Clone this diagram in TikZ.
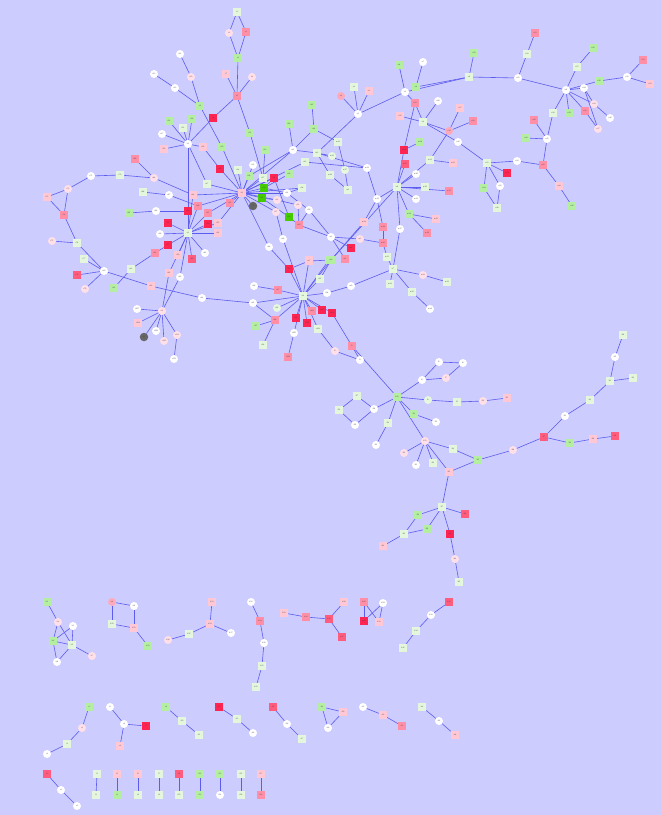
\documentclass[tikz,border=0pt]{standalone}
\usepackage{tikz}
\usepackage{tkz-graph}
\usetikzlibrary{arrows,%
                shapes,positioning}
\definecolor{bgblue}{HTML}{CCCCFF}
\definecolor{edgeblue}{HTML}{5C5CEE}
\definecolor{gA}{HTML}{E4F7DC}
\definecolor{gB}{HTML}{B4EEA0}
\definecolor{gC}{HTML}{44CC00}
\definecolor{pP}{HTML}{FFC8D4}
\definecolor{pQ}{HTML}{FF8FA6}
\definecolor{pS}{HTML}{FF5C7E}
\definecolor{pR}{HTML}{FF2452}
\definecolor{cV}{HTML}{FFE0E8}
\definecolor{cU}{HTML}{FFAABB}
\definecolor{cG}{HTML}{E6F8DE}
\pgfdeclarelayer{bgrect}
\pgfdeclarelayer{edgelayer}
\pgfsetlayers{bgrect,edgelayer,main}
\tikzset{VertexStyle/.style={inner sep=0pt, font=\sffamily\fontsize{1.9}{2}\selectfont, text=black!75},
  sq/.style={rectangle, minimum width=8.4pt, minimum height=7.4pt},
  rd/.style={circle, minimum size=8pt},
  sA/.style={sq, fill=gA}, sB/.style={sq, fill=gB}, sC/.style={sq, fill=gC},
  sP/.style={sq, fill=pP}, sQ/.style={sq, fill=pQ}, sS/.style={sq, fill=pS},
  sR/.style={sq, fill=pR, minimum width=8.6pt, minimum height=8.2pt},
  cW/.style={rd, fill=white}, cV/.style={rd, fill=cV}, cU/.style={rd, fill=cU},
  cG/.style={rd, fill=cG},
  gdot/.style={circle, minimum size=8.5pt, fill=black!60, text=black!60}}

\begin{document}
\begin{tikzpicture}[x=1pt,y=-1pt]
\SetUpEdge[lw=0.6pt, color=edgeblue]
\useasboundingbox (0,0) rectangle (661,815);
\begin{pgfonlayer}{bgrect}
\fill[bgblue] (0,0) rectangle (661,815);
\end{pgfonlayer}
% upper left cluster
\Vertex[x=237,y=12,style={sA}]{t1}
\Vertex[x=229,y=33,style={cV}]{t2}
\Vertex[x=246,y=32,style={sQ}]{t3}
\Vertex[x=238,y=58,style={sB}]{t4}
\Vertex[x=237,y=96,style={sQ}]{t5}
\Vertex[x=252,y=77,style={cV}]{t6}
\Vertex[x=226,y=74,style={sP}]{t7}
\Vertex[x=213,y=118,style={sR}]{t8}
\Vertex[x=200,y=106,style={sB}]{t9}
\Vertex[x=191,y=77,style={cV}]{t10}
\Vertex[x=180,y=54,style={cW}]{t11}
\Vertex[x=154,y=74,style={cW}]{t12}
\Vertex[x=175,y=88,style={cW}]{t13}
\Vertex[x=188,y=144,style={cW}]{h1}
\Vertex[x=169,y=121,style={sB}]{t14}
\Vertex[x=183,y=128,style={sA}]{t15}
\Vertex[x=192,y=119,style={sB}]{t16}
\Vertex[x=162,y=134,style={cW}]{t17}
\Vertex[x=164,y=149,style={sP}]{t18}
\Vertex[x=203,y=147,style={sP}]{t19}
\Vertex[x=222,y=147,style={sB}]{t20}
\Vertex[x=250,y=133,style={sB}]{t21}
\Vertex[x=265,y=150,style={sB}]{t22}
\Vertex[x=220,y=169,style={sR}]{t23}
\Vertex[x=238,y=170,style={sA}]{t24}
\Vertex[x=253,y=165,style={cW}]{t25}
\Vertex[x=249,y=176,style={sB}]{t26}
\Vertex[x=263,y=178,style={sA}]{t27}
\Vertex[x=274,y=178,style={sR}]{t28}
\Vertex[x=289,y=174,style={sB}]{t29}
\Vertex[x=264,y=188,style={sC}]{t30}
\Vertex[x=262,y=198,style={sC}]{t31}
\Vertex[x=242,y=193,style={sP}]{h2}
\Vertex[x=230,y=203,style={sQ}]{t32}
\Vertex[x=253,y=206,style={gdot}]{d1}
\Vertex[x=277,y=200,style={cV}]{t33}
\Vertex[x=287,y=193,style={cW}]{t34}
\Vertex[x=298,y=205,style={cV}]{t35}
\Vertex[x=302,y=188,style={sA}]{t36}
\Vertex[x=276,y=212,style={cV}]{t37}
\Vertex[x=289,y=217,style={sC}]{t38}
\Vertex[x=309,y=210,style={cW}]{t39}
\Vertex[x=299,y=225,style={sQ}]{t40}
\Vertex[x=293,y=150,style={cW}]{t41}
\Vertex[x=317,y=153,style={sA}]{t42}
\Vertex[x=305,y=162,style={sA}]{t43}
\Vertex[x=314,y=129,style={sB}]{t44}
\Vertex[x=312,y=105,style={sB}]{t45}
\Vertex[x=289,y=124,style={sB}]{t46}
\Vertex[x=207,y=184,style={sA}]{t47}
\Vertex[x=193,y=195,style={sP}]{t48}
\Vertex[x=198,y=206,style={sQ}]{t49}
\Vertex[x=188,y=211,style={sR}]{t50}
\Vertex[x=208,y=213,style={sQ}]{t51}
\Vertex[x=208,y=224,style={sR}]{t52}
\Vertex[x=218,y=223,style={sP}]{t53}
\Vertex[x=218,y=233,style={sP}]{t54}
\Vertex[x=188,y=233,style={sA}]{h3}
\Vertex[x=168,y=223,style={sR}]{t55}
\Vertex[x=160,y=234,style={cW}]{t56}
\Vertex[x=168,y=245,style={sR}]{t57}
\Vertex[x=155,y=253,style={sQ}]{t58}
\Vertex[x=178,y=255,style={sP}]{t59}
\Vertex[x=192,y=259,style={sS}]{t60}
\Vertex[x=205,y=253,style={cW}]{t61}
\Vertex[x=169,y=273,style={sP}]{t62}
\Vertex[x=180,y=277,style={cW}]{t63}
\Vertex[x=156,y=211,style={cW}]{t64}
\Vertex[x=129,y=213,style={sB}]{t65}
\Vertex[x=143,y=192,style={sA}]{t66}
\Vertex[x=169,y=195,style={cW}]{t67}
\Vertex[x=154,y=178,style={cV}]{t68}
\Vertex[x=135,y=159,style={sQ}]{t69}
\Vertex[x=120,y=175,style={sA}]{t70}
\Vertex[x=91,y=176,style={cW}]{t71}
\Vertex[x=68,y=189,style={cV}]{t72}
\Vertex[x=47,y=197,style={sP}]{t73}
\Vertex[x=64,y=215,style={sQ}]{t74}
\Vertex[x=52,y=241,style={cV}]{t75}
\Vertex[x=77,y=243,style={sA}]{t76}
\Vertex[x=84,y=259,style={sA}]{t77}
\Vertex[x=77,y=275,style={sS}]{t78}
\Vertex[x=85,y=289,style={cV}]{t79}
\Vertex[x=104,y=271,style={cW}]{t80}
\Vertex[x=114,y=288,style={sB}]{t81}
\Vertex[x=131,y=269,style={sA}]{t82}
\Vertex[x=151,y=286,style={sP}]{t83}
\Vertex[x=202,y=298,style={cW}]{t84}
\Vertex[x=253,y=303,style={cW}]{t85}
\Vertex[x=254,y=286,style={cW}]{t86}
\Vertex[x=278,y=290,style={sQ}]{t87}
\Vertex[x=269,y=247,style={cW}]{t88}
\Vertex[x=283,y=239,style={cW}]{t89}
\Vertex[x=289,y=269,style={sR}]{t90}
\Vertex[x=309,y=260,style={sP}]{t91}
\Vertex[x=329,y=260,style={sB}]{t92}
\Vertex[x=320,y=279,style={sA}]{t93}
\Vertex[x=303,y=296,style={sA}]{h4}
\Vertex[x=327,y=293,style={cW}]{t94}
\Vertex[x=277,y=308,style={cG}]{t95}
\Vertex[x=275,y=320,style={sQ}]{t96}
\Vertex[x=256,y=326,style={sB}]{t97}
\Vertex[x=263,y=345,style={sA}]{t98}
\Vertex[x=296,y=318,style={sR}]{t99}
\Vertex[x=307,y=323,style={sR}]{t100}
\Vertex[x=312,y=311,style={sQ}]{t101}
\Vertex[x=322,y=310,style={sR}]{t102}
\Vertex[x=332,y=313,style={sR}]{t103}
\Vertex[x=318,y=329,style={sA}]{t104}
\Vertex[x=294,y=333,style={cW}]{t105}
\Vertex[x=288,y=357,style={sQ}]{t106}
\Vertex[x=162,y=311,style={cV}]{h5}
\Vertex[x=137,y=309,style={cW}]{t107}
\Vertex[x=138,y=323,style={sP}]{t108}
\Vertex[x=144,y=337,style={gdot}]{d2}
\Vertex[x=156,y=331,style={cW}]{t109}
\Vertex[x=164,y=341,style={cV}]{t110}
\Vertex[x=177,y=335,style={cV}]{t111}
\Vertex[x=174,y=359,style={cW}]{t112}
% middle cluster
\Vertex[x=348,y=190,style={sA}]{m1}
\Vertex[x=331,y=237,style={cW}]{m2}
\Vertex[x=360,y=239,style={cV}]{m3}
\Vertex[x=351,y=248,style={sR}]{m4}
\Vertex[x=345,y=259,style={sQ}]{m5}
\Vertex[x=331,y=260,style={sB}]{m6}
\Vertex[x=309,y=261,style={sP}]{m7}
\Vertex[x=351,y=286,style={cW}]{m9}
\Vertex[x=397,y=187,style={sA}]{h6}
\Vertex[x=425,y=187,style={sA}]{m10}
\Vertex[x=449,y=191,style={sQ}]{m11}
\Vertex[x=416,y=199,style={cW}]{m12}
\Vertex[x=377,y=199,style={cW}]{m13}
\Vertex[x=409,y=214,style={sB}]{m14}
\Vertex[x=436,y=219,style={sP}]{m15}
\Vertex[x=427,y=233,style={sQ}]{m16}
\Vertex[x=400,y=229,style={cW}]{m17}
\Vertex[x=364,y=222,style={sP}]{m18}
\Vertex[x=383,y=227,style={sQ}]{m19}
\Vertex[x=383,y=243,style={sQ}]{m20}
\Vertex[x=387,y=257,style={sA}]{m21}
\Vertex[x=393,y=269,style={sA}]{h7}
\Vertex[x=423,y=275,style={cV}]{m22}
\Vertex[x=447,y=282,style={sA}]{m23}
\Vertex[x=390,y=284,style={sA}]{m24}
\Vertex[x=412,y=292,style={sA}]{m25}
\Vertex[x=430,y=309,style={cW}]{m26}
\Vertex[x=405,y=164,style={sS}]{m27}
\Vertex[x=404,y=150,style={sR}]{m28}
\Vertex[x=420,y=142,style={sB}]{m29}
\Vertex[x=416,y=174,style={cW}]{m30}
\Vertex[x=430,y=160,style={sA}]{m31}
\Vertex[x=453,y=163,style={sP}]{m32}
\Vertex[x=367,y=168,style={cW}]{m33}
\Vertex[x=338,y=142,style={sA}]{m34}
\Vertex[x=332,y=156,style={cG}]{m35}
\Vertex[x=330,y=175,style={sA}]{m36}
\Vertex[x=345,y=170,style={cG}]{m37}
% upper right cluster
\Vertex[x=358,y=114,style={cW}]{u1}
\Vertex[x=354,y=87,style={sA}]{u2}
\Vertex[x=369,y=91,style={sP}]{u3}
\Vertex[x=341,y=96,style={cU}]{u4}
\Vertex[x=405,y=92,style={cW}]{u5}
\Vertex[x=399,y=65,style={sB}]{u6}
\Vertex[x=423,y=62,style={cW}]{u7}
\Vertex[x=416,y=87,style={sB}]{u8}
\Vertex[x=469,y=77,style={sA}]{u9}
\Vertex[x=474,y=53,style={sB}]{u10}
\Vertex[x=518,y=78,style={cW}]{u11}
\Vertex[x=527,y=54,style={sA}]{u12}
\Vertex[x=535,y=33,style={sQ}]{u13}
\Vertex[x=423,y=122,style={sA}]{h8}
\Vertex[x=415,y=103,style={sQ}]{u14}
\Vertex[x=400,y=116,style={sP}]{u15}
\Vertex[x=438,y=101,style={cW}]{u16}
\Vertex[x=460,y=108,style={sP}]{u17}
\Vertex[x=473,y=121,style={sQ}]{u18}
\Vertex[x=449,y=131,style={cU}]{u19}
\Vertex[x=458,y=142,style={cW}]{u20}
\Vertex[x=487,y=163,style={sA}]{u21}
\Vertex[x=517,y=161,style={cW}]{u22}
\Vertex[x=507,y=173,style={sR}]{u23}
\Vertex[x=484,y=188,style={sB}]{u24}
\Vertex[x=500,y=186,style={cW}]{u25}
\Vertex[x=497,y=208,style={sA}]{u26}
\Vertex[x=566,y=90,style={cW}]{h9}
\Vertex[x=577,y=67,style={sA}]{u27}
\Vertex[x=593,y=48,style={sB}]{u28}
\Vertex[x=584,y=88,style={cW}]{u29}
\Vertex[x=599,y=81,style={sB}]{u30}
\Vertex[x=627,y=77,style={cW}]{u31}
\Vertex[x=643,y=60,style={sQ}]{u32}
\Vertex[x=650,y=84,style={sP}]{u33}
\Vertex[x=594,y=104,style={cV}]{u34}
\Vertex[x=585,y=111,style={sQ}]{u35}
\Vertex[x=610,y=118,style={cW}]{u36}
\Vertex[x=598,y=129,style={cV}]{u37}
\Vertex[x=553,y=113,style={sA}]{u38}
\Vertex[x=569,y=113,style={sB}]{u39}
\Vertex[x=534,y=120,style={sQ}]{u40}
\Vertex[x=547,y=139,style={cW}]{u41}
\Vertex[x=526,y=138,style={sB}]{u42}
\Vertex[x=543,y=165,style={sQ}]{u43}
\Vertex[x=559,y=186,style={sP}]{u44}
\Vertex[x=572,y=206,style={sB}]{u45}
% lower middle cluster
\Vertex[x=352,y=346,style={sQ}]{l1}
\Vertex[x=335,y=351,style={cV}]{l2}
\Vertex[x=360,y=360,style={cW}]{l3}
\Vertex[x=397,y=397,style={sB}]{h10}
\Vertex[x=422,y=380,style={cW}]{l4}
\Vertex[x=439,y=362,style={cW}]{l5}
\Vertex[x=463,y=363,style={cW}]{l6}
\Vertex[x=446,y=378,style={cV}]{l7}
\Vertex[x=428,y=400,style={cG}]{l8}
\Vertex[x=457,y=402,style={sA}]{l9}
\Vertex[x=483,y=401,style={cV}]{l10}
\Vertex[x=507,y=398,style={sP}]{l11}
\Vertex[x=414,y=414,style={sB}]{l12}
\Vertex[x=436,y=422,style={cW}]{l13}
\Vertex[x=388,y=423,style={sA}]{l14}
\Vertex[x=376,y=445,style={cW}]{l15}
\Vertex[x=374,y=409,style={cW}]{l16}
\Vertex[x=357,y=396,style={sA}]{l17}
\Vertex[x=339,y=410,style={sA}]{l18}
\Vertex[x=355,y=425,style={cW}]{l19}
\Vertex[x=425,y=441,style={cV}]{h11}
\Vertex[x=404,y=453,style={cV}]{l20}
\Vertex[x=416,y=465,style={cW}]{l21}
\Vertex[x=433,y=463,style={sA}]{l22}
\Vertex[x=449,y=472,style={sP}]{l23}
\Vertex[x=453,y=449,style={sA}]{l24}
\Vertex[x=478,y=460,style={sB}]{l25}
\Vertex[x=513,y=450,style={cV}]{l26}
\Vertex[x=544,y=437,style={sS}]{l27}
\Vertex[x=570,y=443,style={sB}]{l28}
\Vertex[x=593,y=439,style={sP}]{l29}
\Vertex[x=615,y=436,style={sS}]{l30}
\Vertex[x=565,y=416,style={cW}]{l31}
\Vertex[x=590,y=400,style={sA}]{l32}
\Vertex[x=610,y=381,style={sA}]{l33}
\Vertex[x=633,y=378,style={sA}]{l34}
\Vertex[x=615,y=357,style={cW}]{l35}
\Vertex[x=623,y=335,style={sA}]{l36}
\Vertex[x=442,y=507,style={sA}]{l37}
\Vertex[x=418,y=515,style={sB}]{l38}
\Vertex[x=427,y=529,style={sB}]{l39}
\Vertex[x=465,y=514,style={sS}]{l40}
\Vertex[x=404,y=534,style={sA}]{l41}
\Vertex[x=383,y=546,style={sP}]{l42}
\Vertex[x=450,y=534,style={sR}]{l43}
\Vertex[x=455,y=559,style={cV}]{l44}
\Vertex[x=459,y=582,style={sA}]{l45}
% small components
\Vertex[x=47,y=602,style={sB}]{b1}
\Vertex[x=58,y=622,style={cV}]{b2}
\Vertex[x=73,y=626,style={cW}]{b3}
\Vertex[x=53,y=641,style={sB}]{b4}
\Vertex[x=72,y=645,style={sA}]{b5}
\Vertex[x=57,y=662,style={cW}]{b6}
\Vertex[x=92,y=656,style={cV}]{b7}
\Vertex[x=112,y=602,style={cU}]{b8}
\Vertex[x=134,y=606,style={cW}]{b9}
\Vertex[x=112,y=624,style={sA}]{b10}
\Vertex[x=134,y=628,style={sP}]{b11}
\Vertex[x=148,y=646,style={sB}]{b12}
\Vertex[x=212,y=602,style={sP}]{b13}
\Vertex[x=210,y=624,style={sP}]{b14}
\Vertex[x=189,y=634,style={sA}]{b15}
\Vertex[x=168,y=640,style={cV}]{b16}
\Vertex[x=231,y=633,style={cW}]{b17}
\Vertex[x=251,y=602,style={cW}]{b18}
\Vertex[x=260,y=621,style={sQ}]{b19}
\Vertex[x=264,y=643,style={cW}]{b20}
\Vertex[x=262,y=666,style={sA}]{b21}
\Vertex[x=256,y=687,style={sA}]{b22}
\Vertex[x=284,y=613,style={sP}]{b23}
\Vertex[x=306,y=617,style={sQ}]{b24}
\Vertex[x=329,y=619,style={sS}]{b25}
\Vertex[x=344,y=602,style={sP}]{b26}
\Vertex[x=342,y=637,style={sS}]{b27}
\Vertex[x=364,y=602,style={sQ}]{b28}
\Vertex[x=383,y=603,style={cW}]{b29}
\Vertex[x=364,y=621,style={sR}]{b30}
\Vertex[x=379,y=622,style={sP}]{b31}
\Vertex[x=449,y=602,style={sS}]{b32}
\Vertex[x=431,y=615,style={cW}]{b33}
\Vertex[x=416,y=631,style={sA}]{b34}
\Vertex[x=403,y=648,style={sA}]{b35}
\Vertex[x=89,y=707,style={sB}]{c1}
\Vertex[x=82,y=728,style={cV}]{c2}
\Vertex[x=67,y=744,style={sA}]{c3}
\Vertex[x=47,y=754,style={cW}]{c4}
\Vertex[x=110,y=707,style={cW}]{c5}
\Vertex[x=124,y=724,style={cW}]{c6}
\Vertex[x=146,y=726,style={sR}]{c7}
\Vertex[x=120,y=746,style={sP}]{c8}
\Vertex[x=166,y=707,style={sB}]{c9}
\Vertex[x=182,y=721,style={sA}]{c10}
\Vertex[x=199,y=735,style={sA}]{c11}
\Vertex[x=219,y=707,style={sR}]{c12}
\Vertex[x=237,y=719,style={sA}]{c13}
\Vertex[x=253,y=733,style={cW}]{c14}
\Vertex[x=273,y=707,style={sS}]{c15}
\Vertex[x=287,y=724,style={cW}]{c16}
\Vertex[x=302,y=739,style={sA}]{c17}
\Vertex[x=322,y=707,style={sB}]{c18}
\Vertex[x=343,y=712,style={sP}]{c19}
\Vertex[x=328,y=728,style={cW}]{c20}
\Vertex[x=363,y=707,style={cW}]{c21}
\Vertex[x=383,y=715,style={sP}]{c22}
\Vertex[x=402,y=726,style={sQ}]{c23}
\Vertex[x=422,y=707,style={sA}]{c24}
\Vertex[x=439,y=721,style={cW}]{c25}
\Vertex[x=455,y=735,style={sP}]{c26}
\Vertex[x=47,y=774,style={sS}]{e1}
\Vertex[x=61,y=790,style={cW}]{e2}
\Vertex[x=77,y=806,style={cW}]{e3}
\Vertex[x=97,y=774,style={sA}]{f1}
\Vertex[x=96,y=795,style={sA}]{f2}
\Vertex[x=117,y=774,style={sP}]{f3}
\Vertex[x=117,y=795,style={sB}]{f4}
\Vertex[x=138,y=774,style={sP}]{f5}
\Vertex[x=138,y=795,style={sA}]{f6}
\Vertex[x=159,y=774,style={sA}]{f7}
\Vertex[x=159,y=795,style={sA}]{f8}
\Vertex[x=179,y=774,style={sS}]{f9}
\Vertex[x=179,y=795,style={sA}]{f10}
\Vertex[x=200,y=774,style={sB}]{f11}
\Vertex[x=200,y=795,style={sB}]{f12}
\Vertex[x=220,y=774,style={sB}]{f13}
\Vertex[x=220,y=795,style={cW}]{f14}
\Vertex[x=241,y=774,style={sA}]{f15}
\Vertex[x=241,y=795,style={sA}]{f16}
\Vertex[x=261,y=774,style={sP}]{f17}
\Vertex[x=261,y=795,style={sQ}]{f18}
\begin{pgfonlayer}{edgelayer}
% upper left
\Edges(t1,t2,t4,t3,t1)
\Edges(t4,t5,t6)
\Edge(t5)(t7)
\Edges(t5,t8,h1)
\Edges(t5,t21,t27)
\Edges(t11,t10,t9,t13,t12)
\Edges(t9,t20,h2)
\Edges(t19,t23,h2)
\Edge(h1)(t14)
\Edge(h1)(t15)
\Edge(h1)(t16)
\Edge(h1)(t17)
\Edge(h1)(t18)
\Edge(h1)(t19)
\Edge(h1)(t47)
\Edge(h1)(h3)
\Edge(h2)(t24)
\Edge(h2)(t25)
\Edge(h2)(t26)
\Edge(h2)(t27)
\Edge(h2)(t30)
\Edge(h2)(t31)
\Edge(h2)(t32)
\Edge(h2)(d1)
\Edge(h2)(t28)
\Edge(h2)(t33)
\Edge(h2)(t34)
\Edge(h2)(t36)
\Edge(h2)(t47)
\Edge(h2)(t48)
\Edge(h2)(t49)
\Edge(h2)(t51)
\Edge(h2)(t53)
\Edge(h2)(t88)
\Edge(h2)(t41)
\Edge(h2)(t43)
\Edge(h2)(t37)
\Edge(t22)(t27)
\Edge(t30)(t28)
\Edge(t30)(t34)
\Edge(t31)(t33)
\Edge(t31)(t38)
\Edge(t28)(t38)
\Edge(t29)(t30)
\Edge(t34)(t39)
\Edge(t33)(t35)
\Edge(t35)(t40)
\Edge(t38)(t40)
\Edge(t39)(t40)
\Edge(t36)(t34)
\Edge(t37)(t89)
\Edge(t41)(t42)
\Edge(t41)(t44)
\Edge(t41)(t46)
\Edge(t41)(t26)
\Edge(t44)(t45)
\Edge(h3)(t50)
\Edge(h3)(t51)
\Edge(h3)(t52)
\Edge(h3)(t53)
\Edge(h3)(t54)
\Edge(h3)(t55)
\Edge(h3)(t56)
\Edge(h3)(t57)
\Edge(h3)(t59)
\Edge(h3)(t60)
\Edge(h3)(t61)
\Edge(h3)(t62)
\Edge(h3)(t63)
\Edge(h3)(t49)
\Edge(h3)(t48)
\Edges(t57,t58,t82,t81)
\Edges(t62,h5)
\Edges(t63,h5)
\Edge(h5)(t107)
\Edge(h5)(t108)
\Edge(h5)(d2)
\Edge(h5)(t109)
\Edge(h5)(t110)
\Edge(h5)(t111)
\Edge(t111)(t112)
\Edges(t65,t64,t50)
\Edges(t66,t67,t49)
\Edges(t48,t68,t69)
\Edges(t68,t70,t71,t72,t73,t74,t72)
\Edges(t74,t76,t80,t83,t84,t85,h4)
\Edge(t75)(t76)
\Edge(t77)(t80)
\Edge(t78)(t80)
\Edge(t79)(t80)
\Edges(t86,t87,h4)
\Edges(t88,t90,h4)
\Edge(t89)(h4)
\Edge(h4)(t91)
\Edge(h4)(t92)
\Edge(h4)(t93)
\Edge(h4)(t94)
\Edge(h4)(t95)
\Edge(h4)(t96)
\Edge(h4)(t99)
\Edge(h4)(t100)
\Edge(h4)(t101)
\Edge(h4)(t102)
\Edge(h4)(t103)
\Edge(h4)(t104)
\Edge(h4)(t105)
\Edge(h4)(m6)
\Edge(t96)(t97)
\Edge(t96)(t98)
\Edge(t85)(t96)
\Edge(t105)(t106)
% middle
\Edges(t40,m2,m3,m20)
\Edge(m2)(m4)
\Edge(m2)(m5)
\Edge(m2)(t39)
\Edges(t93,m6,m7,t90)
\Edge(m6)(h6)
\Edges(m13,m18,m6)
\Edges(m33,m13,h6)
\Edges(m13,m19,m20,m21,h7)
\Edge(h6)(m10)
\Edge(h6)(m11)
\Edge(h6)(m12)
\Edges(h6,m14,m15)
\Edge(m14)(m16)
\Edges(h6,m17,h7)
\Edge(h6)(m27)
\Edge(h6)(m28)
\Edge(h6)(m30)
\Edge(h6)(m31)
\Edge(m28)(m29)
\Edge(m28)(u14)
\Edge(m31)(m32)
\Edge(m31)(u19)
\Edges(h7,m22,m23)
\Edge(h7)(m24)
\Edges(h7,m25,m26)
\Edges(h7,m9,t94)
\Edge(m33)(t43)
\Edge(m33)(t42)
\Edges(t44,m34,m37,m1)
\Edge(t42)(m35)
\Edges(t42,m36,m1)
% upper right
\Edge(u1)(t42)
\Edge(u1)(u2)
\Edge(u1)(u3)
\Edge(u1)(u4)
\Edge(u1)(u5)
\Edge(u5)(u6)
\Edge(u5)(u9)
\Edge(u5)(u14)
\Edges(u7,u8,u9)
\Edge(u9)(u10)
\Edges(u9,u11,u12,u13)
\Edge(u11)(h9)
\Edge(h8)(u14)
\Edge(h8)(u15)
\Edge(h8)(u16)
\Edges(h8,u20,u21)
\Edges(h8,u19,u17)
\Edge(u19)(u18)
\Edge(u21)(u22)
\Edge(u21)(u23)
\Edges(u21,u24,u26,u25,u21)
\Edges(u22,u43,u44,u45)
\Edges(u43,u41,u38)
\Edge(u41)(u40)
\Edge(u41)(u42)
\Edges(h9,u27,u28)
\Edge(h9)(u29)
\Edges(h9,u30,u31,u32)
\Edge(u31)(u33)
\Edge(h9)(u38)
\Edge(h9)(u39)
\Edge(h9)(u35)
\Edge(h9)(u34)
\Edge(u29)(u34)
\Edge(u29)(u37)
\Edge(u34)(u36)
\Edge(u35)(u37)
% lower middle
\Edges(t104,l2,l3)
\Edges(t103,l1,h10)
\Edge(l1)(l3)
\Edges(h10,l4,l5,l6,l7,l4)
\Edges(h10,l8,l9,l10,l11)
\Edges(h10,l12,l13)
\Edges(h10,l14,l15)
\Edges(h10,l16,l17,l18,l19,l16)
\Edge(h10)(h11)
\Edge(h11)(l20)
\Edge(h11)(l21)
\Edge(h11)(l22)
\Edge(h11)(l23)
\Edges(h11,l24,l25)
\Edges(l23,l25,l26,l27,l28,l29,l30)
\Edges(l27,l31,l32,l33,l34)
\Edges(l33,l35,l36)
\Edges(l23,l37,l38,l41,l42)
\Edges(l37,l39,l41)
\Edge(l37)(l40)
\Edges(l37,l43,l44,l45)
% small components
\Edges(b1,b2,b4,b6,b5,b7)
\Edge(b2)(b5)
\Edge(b3)(b4)
\Edge(b3)(b5)
\Edge(b4)(b5)
\Edges(b10,b8,b9,b11,b12)
\Edge(b10)(b11)
\Edges(b13,b14,b15,b16)
\Edge(b14)(b17)
\Edges(b18,b19,b20,b21,b22)
\Edges(b23,b24,b25,b26)
\Edge(b25)(b27)
\Edges(b28,b30,b29,b31,b28)
\Edges(b32,b33,b34,b35)
\Edges(c1,c2,c3,c4)
\Edges(c5,c6,c7)
\Edge(c6)(c8)
\Edges(c9,c10,c11)
\Edges(c12,c13,c14)
\Edges(c15,c16,c17)
\Edges(c18,c19,c20,c18)
\Edges(c21,c22,c23)
\Edges(c24,c25,c26)
\Edges(e1,e2,e3)
\Edge(f1)(f2)
\Edge(f3)(f4)
\Edge(f5)(f6)
\Edge(f7)(f8)
\Edge(f9)(f10)
\Edge(f11)(f12)
\Edge(f13)(f14)
\Edge(f15)(f16)
\Edge(f17)(f18)
\end{pgfonlayer}
\end{tikzpicture}
\end{document}
